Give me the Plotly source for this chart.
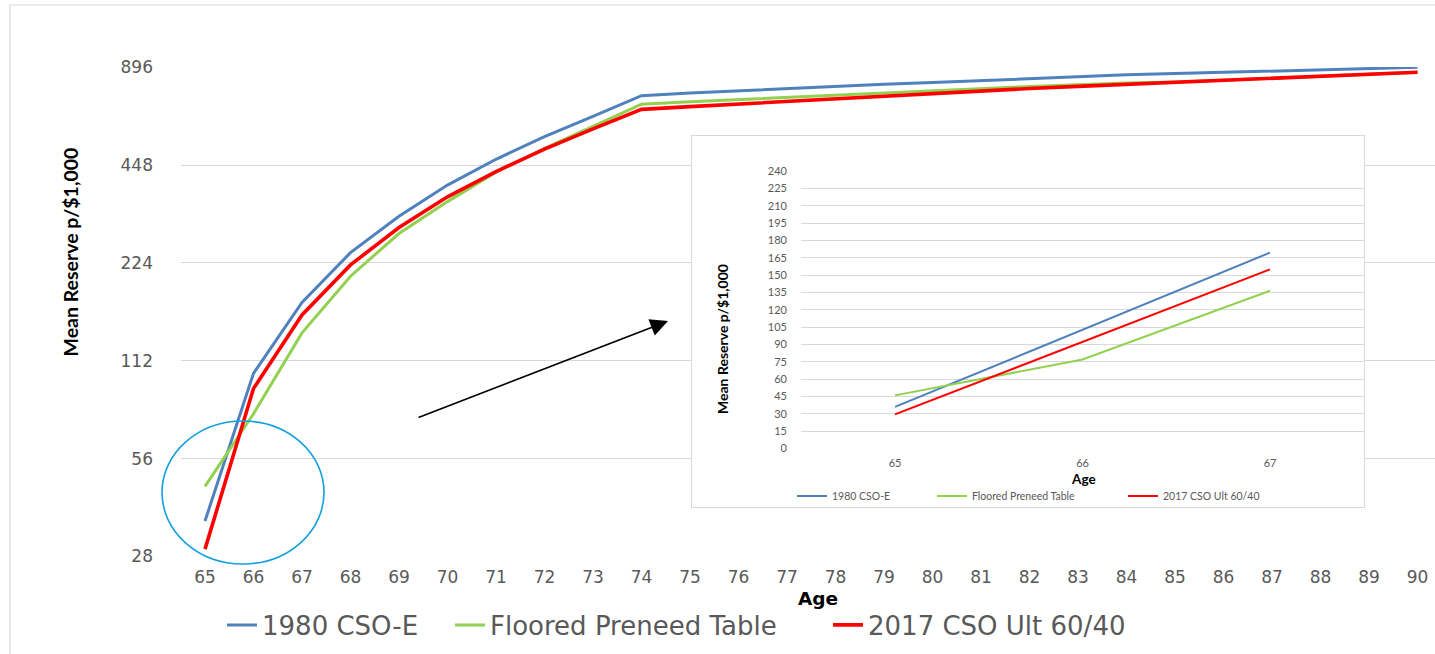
import math
import plotly.graph_objects as go

# ---------------- data ----------------
ages = list(range(65, 91))
cso_1980 = [36, 102.5, 169.5, 241, 312, 389, 467, 548, 633, 733, 747, 759, 771, 783,
            794, 804, 816, 828, 839, 850, 857, 865, 873, 881, 888, 896]
floored_preneed = [46, 77, 136.5, 204, 276, 346, 426, 505, 590, 690, 702, 713, 725, 736,
                   748, 760, 771, 782, 792, 802, 807, 817, 829, 841, 853, 865]
cso_2017 = [29.5, 92, 155, 221, 288, 358, 428, 502, 579, 665, 678, 691, 704, 717,
            730, 745, 760, 771, 783, 794, 805, 817, 829, 841, 853, 865]
series_names = ["1980 CSO-E", "Floored Preneed Table", "2017 CSO Ult 60/40"]
main_yticks = [28, 56, 112, 224, 448, 896]
inset_ages = [65, 66, 67]
inset_yticks = list(range(0, 241, 15))

# ---------------- styling / geometry ----------------
W, H = 1435, 654
L, R, T, B = 181, 0, 67, 97
PW, PH = W - L - R, H - T - B


def px(x):
    return (x - L) / PW


def py(y):
    return (H - B - y) / PH


colors = ["#4F81BD", "#92D050", "#FF0000"]
main_widths = [3, 3, 3.6]
GRID = "#D9D9D9"
TXT = "#595959"
series = [cso_1980, floored_preneed, cso_2017]

fig = go.Figure()

# main chart lines
for i, (name, vals) in enumerate(zip(series_names, series)):
    fig.add_trace(go.Scatter(
        x=ages, y=vals, mode="lines", name=name,
        line=dict(color=colors[i], width=main_widths[i]),
        legend="legend" if i == 0 else f"legend{i + 1}",
        hoverinfo="skip",
    ))

# empty subplot acting as the white inset card
fig.add_trace(go.Scatter(x=[None], y=[None], xaxis="x2", yaxis="y2",
                         showlegend=False, hoverinfo="skip"))

# inset lines
for i, (name, vals) in enumerate(zip(series_names, series)):
    fig.add_trace(go.Scatter(
        x=inset_ages, y=vals[:len(inset_ages)], mode="lines", name=name,
        line=dict(color=colors[i], width=2),
        xaxis="x3", yaxis="y3", legend=f"legend{i + 4}",
        hoverinfo="skip",
    ))

main_font = dict(family="DejaVu Sans", size=17, color=TXT)
inset_font = dict(family="Lato", size=11, color=TXT)

# main x: 65 centred at px 205, 48.5 px per year
x_r0 = 65 - (205 - L) / 48.5
x_r1 = x_r0 + PW / 48.5
# inset x: 65 at px 895, 187.5 px per year
ix_l, ix_r = 801, 1364
ix_r0 = 65 - (895 - ix_l) / 187.5
ix_r1 = ix_r0 + (ix_r - ix_l) / 187.5
iy_top, iy_bot = 170.7, 449

legend_common = dict(xanchor="left", yanchor="middle", orientation="h",
                     bgcolor="rgba(0,0,0,0)", borderwidth=0)
main_leg_x = [262, 490, 868]
inset_leg_x = [832, 972, 1163]
legends = {}
for i in range(3):
    key = "legend" if i == 0 else f"legend{i + 1}"
    legends[key] = dict(x=px(main_leg_x[i] - 40), y=py(625),
                        font=dict(family="DejaVu Sans", size=26, color=TXT),
                        **legend_common)
for i in range(3):
    legends[f"legend{i + 4}"] = dict(x=px(inset_leg_x[i] - 40), y=py(496),
                                     font=dict(family="Lato", size=10.5, color=TXT),
                                     itemwidth=30, **legend_common)

fig.update_layout(
    width=W, height=H,
    margin=dict(l=L, r=R, t=T, b=B, pad=0),
    paper_bgcolor="white", plot_bgcolor="white",
    showlegend=True,
    xaxis=dict(
        range=[x_r0, x_r1], tickmode="array", tickvals=ages,
        ticktext=[str(a) for a in ages], showgrid=False, zeroline=False,
        showline=False, ticks="", tickfont=main_font, ticklabelstandoff=8,
    ),
    yaxis=dict(
        type="log", range=[math.log10(27.9), math.log10(898)],
        tickmode="array", tickvals=main_yticks,
        ticktext=[str(v) for v in main_yticks],
        showgrid=True, gridcolor=GRID, gridwidth=1, zeroline=False,
        showline=False, ticks="", tickfont=main_font, ticklabelstandoff=27,
    ),
    xaxis2=dict(domain=[px(692), px(1364.3)], anchor="y2", range=[0, 1],
                showgrid=False, zeroline=False, showticklabels=False,
                showline=True, mirror=True, linecolor=GRID, linewidth=1, ticks=""),
    yaxis2=dict(domain=[py(507.3), py(136)], anchor="x2", range=[0, 1],
                showgrid=False, zeroline=False, showticklabels=False,
                showline=True, mirror=True, linecolor=GRID, linewidth=1, ticks=""),
    xaxis3=dict(domain=[px(ix_l), px(ix_r)], anchor="y3", range=[ix_r0, ix_r1],
                tickmode="array", tickvals=inset_ages,
                ticktext=[str(a) for a in inset_ages],
                showgrid=False, zeroline=False, showline=False, ticks="",
                tickfont=inset_font, ticklabelstandoff=6),
    yaxis3=dict(domain=[py(iy_bot), py(iy_top)], anchor="x3",
                range=[-0.4, 240.4], tickmode="array", tickvals=inset_yticks,
                showgrid=True, gridcolor=GRID, gridwidth=1, zeroline=False,
                showline=False, ticks="", tickfont=inset_font, ticklabelstandoff=13),
    **legends,
)

annotations = [
    dict(text="Mean Reserve p/$1,000", x=px(70), y=py(252.5), xref="paper", yref="paper",
         textangle=-90, showarrow=False, xanchor="center", yanchor="middle",
         font=dict(family="Lato", size=19.5, color="black", weight="bold")),
    dict(text="Age", x=px(818), y=py(598), xref="paper", yref="paper",
         showarrow=False, xanchor="center", yanchor="middle",
         font=dict(family="DejaVu Sans", size=18.5, color="black", weight="bold")),
    dict(text="Mean Reserve p/$1,000", x=px(722), y=py(339), xref="paper", yref="paper",
         textangle=-90, showarrow=False, xanchor="center", yanchor="middle",
         font=dict(family="Lato", size=14, color="black", weight="bold")),
    dict(text="Age", x=px(1083), y=py(479), xref="paper", yref="paper",
         showarrow=False, xanchor="center", yanchor="middle",
         font=dict(family="Lato", size=13.5, color="black", weight="bold")),
    # arrow pointing to inset
    dict(text="", x=px(668), y=py(321), xref="paper", yref="paper",
         ax=417 - 668, ay=418 - 321, axref="pixel", ayref="pixel",
         showarrow=True, arrowhead=2, arrowsize=2.2, arrowwidth=1.6,
         arrowcolor="black"),
]
fig.update_layout(annotations=annotations)

shapes = [
    # outer chart border (cropped on right/bottom)
    dict(type="rect", xref="paper", yref="paper",
         x0=px(10), x1=px(W + 20), y0=py(H + 20), y1=py(5),
         line=dict(color=GRID, width=1.2), fillcolor="rgba(0,0,0,0)", layer="below"),
    # highlight ellipse
    dict(type="circle", xref="paper", yref="paper",
         x0=px(162), x1=px(324), y0=py(564), y1=py(421),
         line=dict(color="#14A0DC", width=1.6), fillcolor="rgba(0,0,0,0)", layer="above"),
]
fig.update_layout(shapes=shapes)

fig.write_html(
    "out.html",
    config={"displayModeBar": False},
    post_script="document.body.style.margin='0';document.body.style.overflow='hidden';",
)
